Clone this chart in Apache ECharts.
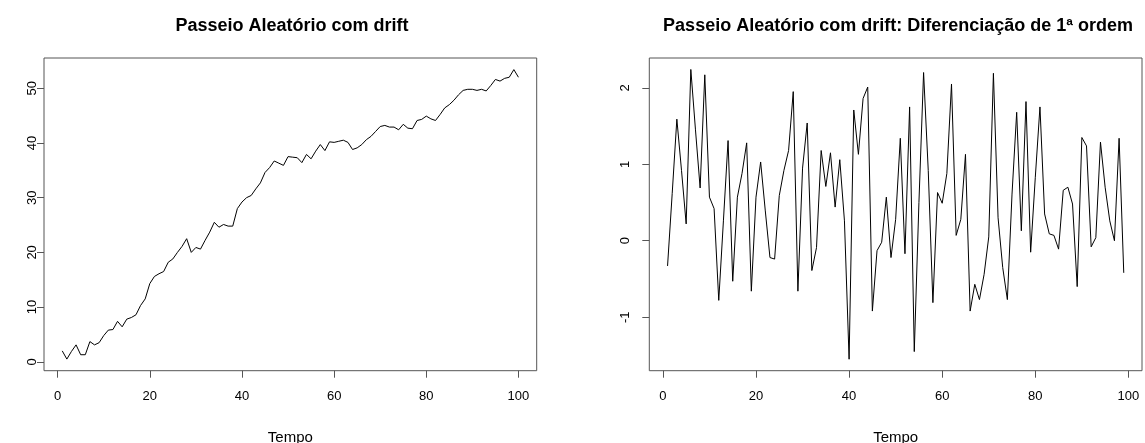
<!DOCTYPE html>
<html>
<head>
<meta charset="utf-8">
<script src="https://cdn.jsdelivr.net/npm/echarts@6/dist/echarts.min.js"></script>
<style>html,body{margin:0;padding:0;background:#fff;}#c{width:1145px;height:443px;}</style>
</head>
<body>
<div id="c"></div>
<script>
// Data
const walkValues = [2.0,0.5,1.9,3.1,1.3,1.3,3.7,3.1,3.5,4.8,
  5.8,5.9,7.4,6.4,7.8,8.1,8.6,10.3,11.5,14.3,
  15.6,16.1,16.5,18.2,18.8,20.0,21.1,22.5,20.0,20.9,
  20.6,22.2,23.7,25.5,24.6,25.1,24.8,24.8,28.0,29.2,
  30.0,30.4,31.6,32.7,34.6,35.5,36.7,36.3,35.9,37.5,
  37.4,37.3,36.4,37.9,37.1,38.5,39.7,38.6,40.2,40.1,
  40.3,40.5,40.1,38.8,39.1,39.7,40.6,41.2,42.1,43.0,
  43.2,42.9,42.9,42.4,43.4,42.7,42.6,44.1,44.3,44.9,
  44.4,44.1,45.2,46.4,47.0,47.8,48.8,49.6,49.8,49.8,
  49.6,49.8,49.5,50.5,51.6,51.3,51.8,52.0,53.4,52.0];
const diffValues = [-0.33,0.62,1.59,0.92,0.22,2.24,1.45,0.69,2.17,0.57,
  0.42,-0.78,0.26,1.31,-0.53,0.57,0.88,1.28,-0.66,0.57,
  1.03,0.39,-0.22,-0.24,0.59,0.92,1.18,1.95,-0.66,0.95,
  1.54,-0.39,-0.09,1.18,0.71,1.15,0.44,1.06,0.26,-1.55,
  1.71,1.13,1.86,2.01,-0.92,-0.13,-0.02,0.57,-0.22,0.28,
  1.34,-0.17,1.75,-1.45,0.5,2.2,0.92,-0.81,0.63,0.49,
  0.88,2.05,0.07,0.28,1.13,-0.92,-0.57,-0.77,-0.44,0.05,
  2.19,0.3,-0.35,-0.77,0.61,1.68,0.13,1.82,-0.15,0.83,
  1.75,0.35,0.09,0.07,-0.11,0.66,0.70,0.48,-0.60,1.35,
  1.24,-0.08,0.04,1.29,0.70,0.26,0.0,1.34,-0.42];
const xTicks = [0,20,40,60,80,100];
const walkTicks = [0,10,20,30,40,50];
const diffTicks = [-1,0,1,2];
const titleLeft = 'Passeio Aleatório com drift';
const titleRight = 'Passeio Aleatório com drift: Diferenciação de 1ª ordem';
const xName = 'Tempo';

const FONT = 'Liberation Sans, Arial, sans-serif';
const walkData = walkValues.map((v,i)=>[i+1,v]);
const diffData = diffValues.map((v,i)=>[i+1,v]);

function xAxisOpt(gi,min,max){
  return {type:'value',gridIndex:gi,min:min,max:max,
    name:xName,nameLocation:'middle',nameGap:60,
    nameTextStyle:{color:'#000',fontFamily:FONT,fontSize:15},
    axisLine:{show:false,onZero:false},splitLine:{show:false},
    axisTick:{show:true,length:7,inside:false,customValues:xTicks,lineStyle:{color:'#555'}},
    axisLabel:{color:'#000',fontFamily:FONT,fontSize:13,margin:19,customValues:xTicks}};
}
function yAxisOpt(gi,min,max,ticks,margin){
  return {type:'value',gridIndex:gi,min:min,max:max,
    axisLine:{show:false,onZero:false},splitLine:{show:false},
    axisTick:{show:true,length:7,inside:false,customValues:ticks,lineStyle:{color:'#555'}},
    axisLabel:{color:'#000',fontFamily:FONT,fontSize:13,rotate:90,margin:margin,customValues:ticks}};
}

const chart = echarts.init(document.getElementById('c'));
chart.setOption({
  animation:false,
  backgroundColor:'#fff',
  title:[
    {text:titleLeft,left:287,top:12,textAlign:'center',textStyle:{fontFamily:FONT,fontSize:18,fontWeight:'bold',color:'#000'}},
    {text:titleRight,left:893,top:12,textAlign:'center',textStyle:{fontFamily:FONT,fontSize:18,fontWeight:'bold',color:'#000'}}
  ],
  grid:[
    {left:44,width:492.7,top:58,height:312.7,show:true,borderColor:'#555',borderWidth:1,backgroundColor:'transparent',containLabel:false,outerBoundsMode:'none'},
    {left:649.3,width:492.7,top:58,height:312.7,show:true,borderColor:'#555',borderWidth:1,backgroundColor:'transparent',containLabel:false,outerBoundsMode:'none'}
  ],
  xAxis:[xAxisOpt(0,-2.96,103.96),xAxisOpt(1,-2.92,102.92)],
  yAxis:[yAxisOpt(0,-1.62,55.52,walkTicks,5),yAxisOpt(1,-1.70,2.39,diffTicks,17)],
  series:[
    {type:'line',xAxisIndex:0,yAxisIndex:0,data:walkData,showSymbol:false,lineStyle:{color:'#000',width:1},silent:true},
    {type:'line',xAxisIndex:1,yAxisIndex:1,data:diffData,showSymbol:false,lineStyle:{color:'#000',width:1},silent:true}
  ]
});
</script>
</body>
</html>
